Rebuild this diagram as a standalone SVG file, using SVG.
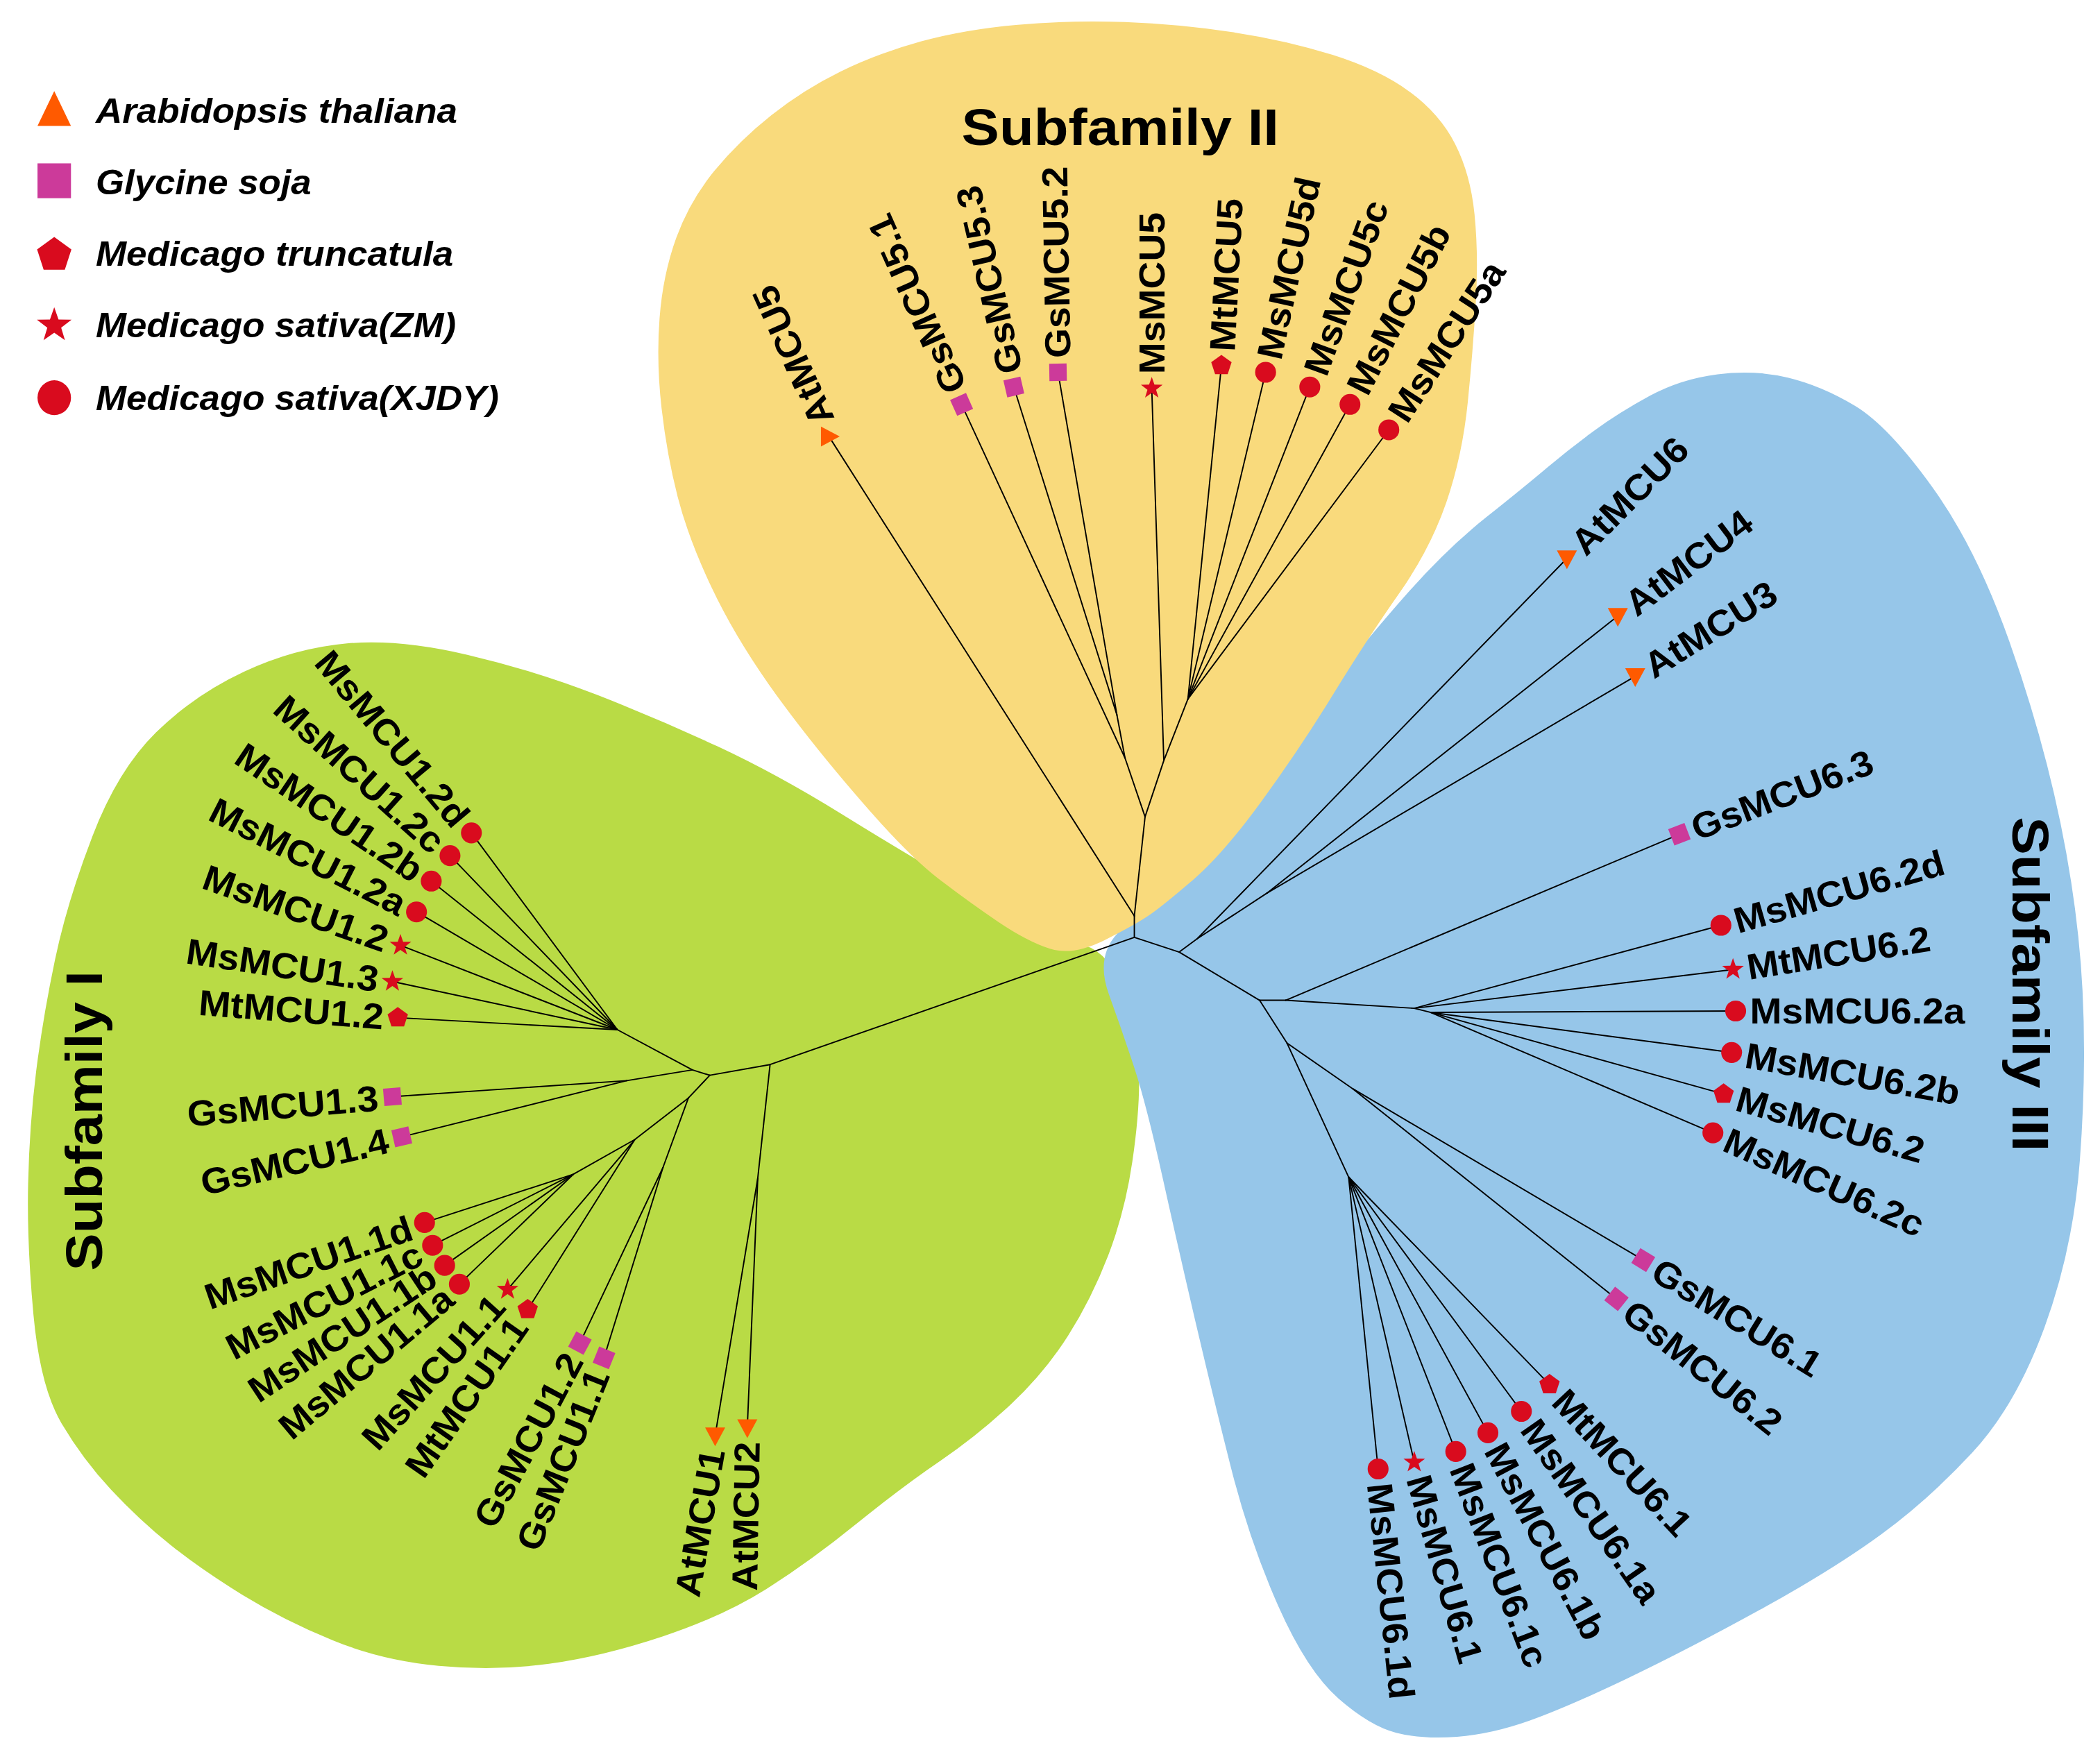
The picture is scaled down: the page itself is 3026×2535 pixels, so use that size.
<svg xmlns="http://www.w3.org/2000/svg" width="3026" height="2535" viewBox="0 0 3026 2535">
<style>
.lb{font-family:"Liberation Sans",Arial,sans-serif;font-weight:bold;font-size:27px;fill:#000}
.e{text-anchor:end}
.ttl{font-family:"Liberation Sans",Arial,sans-serif;font-weight:bold;font-size:38px;fill:#000}
.lg{font-family:"Liberation Sans",Arial,sans-serif;font-weight:bold;font-style:italic;font-size:26px;fill:#000}
.br line{stroke:#000;stroke-width:1;stroke-linecap:round}
</style>
<defs>
<circle id="mc" r="7.8" fill="#D90B1E"/>
<rect id="ms" x="-6.5" y="-6.5" width="13" height="13" fill="#CC3A9A"/>
<polygon id="mp" points="0,-8 7.61,-2.47 4.70,6.47 -4.70,6.47 -7.61,-2.47" fill="#D90B1E"/>
<polygon id="mst" points="0,-8.5 2,-2.75 8.08,-2.63 3.23,1.05 5,6.88 0,3.4 -5,6.88 -3.23,1.05 -8.08,-2.63 -2,-2.75" fill="#D90B1E"/>
<polygon id="mt" points="-7.5,-6 7.5,-6 0,8" fill="#FF5A00"/>
</defs>
<rect width="3026" height="2535" fill="#fff"/>
<g transform="scale(1.9298)">
<g id="backgrounds">
<path id="bg-subfamily-I" fill="#B9DB45" d="M349,489 Q400,501 446,519 Q492,537 536,557.5 Q580,578 628.5,608 Q677,638 703.5,653 Q730,668 760,684 Q790,700 810,706 Q830,712 840,744.5 Q850,777 850.5,803.5 Q851,830 845.5,867.5 Q840,905 827.5,937.5 Q815,970 797.5,997.5 Q780,1025 755,1048.5 Q730,1072 702,1091 Q674,1110 639.5,1138 Q605,1166 572.5,1186.5 Q540,1207 495,1222 Q450,1237 410,1242.5 Q370,1248 327.5,1244 Q285,1240 248.5,1225 Q212,1210 181,1191 Q150,1172 127,1153.5 Q104,1135 83,1112.5 Q62,1090 46,1063 Q30,1036 25,982 Q20,928 21,884 Q22,840 27,800 Q32,760 41,717 Q50,674 69,624.5 Q88,575 116.5,547 Q145,519 182.5,501.5 Q220,484 259,480.5 Q298,477 349,489 Z"/>
<path id="bg-subfamily-III" fill="#96C6E9" d="M1232,295.5 Q1255,283 1282.5,279.5 Q1310,276 1335,282 Q1360,288 1385,303 Q1410,318 1443,364 Q1476,410 1500.5,479.5 Q1525,549 1538.5,614.5 Q1552,680 1555,740 Q1558,800 1553,866.5 Q1548,933 1526.5,991.5 Q1505,1050 1472.5,1085 Q1440,1120 1404.5,1146 Q1369,1172 1314.5,1202 Q1260,1232 1215,1253.5 Q1170,1275 1142,1285 Q1114,1295 1088,1297 Q1062,1299 1042.5,1294 Q1023,1289 999.5,1268.5 Q976,1248 954.5,1199.5 Q933,1151 919,1095.5 Q905,1040 892.5,986.5 Q880,933 868,879 Q856,825 847,797.5 Q838,770 828,742.5 Q818,715 834,697.5 Q850,680 885,645 Q920,610 950,570 Q980,530 1000.5,503.5 Q1021,477 1050.5,443.5 Q1080,410 1109.5,386.5 Q1139,363 1155.5,349 Q1172,335 1190.5,321.5 Q1209,308 1232,295.5 Z"/>
<path id="bg-subfamily-II" fill="#F9DA7C" d="M784,708.5 Q767,703 745.5,688.5 Q724,674 700.5,656 Q677,638 638.5,593 Q600,548 574,511 Q548,474 531,438 Q514,402 506,371 Q498,340 494,305 Q490,270 492.5,237.5 Q495,205 505,177.5 Q515,150 533.5,127.5 Q552,105 576,86 Q600,67 627.5,53.5 Q655,40 687.5,31 Q720,22 760,18.5 Q800,15 840,16.5 Q880,18 920,24 Q960,30 995,41 Q1030,52 1052.5,68.5 Q1075,85 1086.5,107.5 Q1098,130 1101,160 Q1104,190 1102,225 Q1100,260 1096,300 Q1092,340 1080,375 Q1068,410 1044.5,443.5 Q1021,477 995.5,518.5 Q970,560 941.5,599 Q913,638 891.5,656.5 Q870,675 859.5,682.5 Q849,690 825,702 Q801,714 784,708.5 Z"/>
</g>
<g id="connectors" class="br">
<line x1="847" y1="700" x2="847" y2="684"/>
<line x1="847" y1="684" x2="619" y2="326"/>
<line x1="847" y1="684" x2="855" y2="610"/>
<line x1="855" y1="610" x2="840" y2="566"/>
<line x1="840" y1="566" x2="718" y2="302"/>
<line x1="840" y1="566" x2="834" y2="534"/>
<line x1="834" y1="534" x2="757" y2="289"/>
<line x1="834" y1="534" x2="790" y2="278"/>
<line x1="855" y1="610" x2="869" y2="568"/>
<line x1="869" y1="568" x2="860" y2="290"/>
<line x1="869" y1="568" x2="887" y2="522"/>
<line x1="887" y1="522" x2="912" y2="273"/>
<line x1="887" y1="522" x2="945" y2="278"/>
<line x1="887" y1="522" x2="978" y2="289"/>
<line x1="887" y1="522" x2="1008" y2="302"/>
<line x1="887" y1="522" x2="1037" y2="321"/>
<line x1="847" y1="700" x2="880.5" y2="711"/>
<line x1="880.5" y1="711" x2="894" y2="701"/>
<line x1="894" y1="701" x2="1170" y2="417"/>
<line x1="894" y1="701" x2="946" y2="667"/>
<line x1="946" y1="667" x2="1208" y2="460"/>
<line x1="946" y1="667" x2="1221" y2="505"/>
<line x1="880.5" y1="711" x2="940.5" y2="747"/>
<line x1="940.5" y1="747" x2="960" y2="747"/>
<line x1="960" y1="747" x2="1254" y2="623"/>
<line x1="960" y1="747" x2="1056" y2="753"/>
<line x1="1056" y1="753" x2="1285" y2="691"/>
<line x1="1056" y1="753" x2="1294" y2="724"/>
<line x1="1056" y1="753" x2="1068" y2="756"/>
<line x1="1068" y1="756" x2="1296" y2="755"/>
<line x1="1068" y1="756" x2="1293" y2="786"/>
<line x1="1068" y1="756" x2="1287" y2="817"/>
<line x1="1068" y1="756" x2="1279" y2="846"/>
<line x1="940.5" y1="747" x2="961" y2="779"/>
<line x1="961" y1="779" x2="1010" y2="813"/>
<line x1="1010" y1="813" x2="1227" y2="941"/>
<line x1="1010" y1="813" x2="1207" y2="970"/>
<line x1="961" y1="779" x2="1007" y2="879"/>
<line x1="1007" y1="879" x2="1157" y2="1034"/>
<line x1="1007" y1="879" x2="1136" y2="1054"/>
<line x1="1007" y1="879" x2="1111" y2="1070"/>
<line x1="1007" y1="879" x2="1087" y2="1084"/>
<line x1="1007" y1="879" x2="1056" y2="1092"/>
<line x1="1007" y1="879" x2="1029" y2="1097"/>
<line x1="847" y1="700" x2="575" y2="795"/>
<line x1="575" y1="795" x2="565.8" y2="880"/>
<line x1="565.8" y1="880" x2="534" y2="1072"/>
<line x1="565.8" y1="880" x2="558" y2="1066"/>
<line x1="575" y1="795" x2="530" y2="803"/>
<line x1="530" y1="803" x2="517" y2="799"/>
<line x1="517" y1="799" x2="461" y2="769"/>
<line x1="461" y1="769" x2="352" y2="622"/>
<line x1="461" y1="769" x2="336" y2="639"/>
<line x1="461" y1="769" x2="322" y2="658"/>
<line x1="461" y1="769" x2="311" y2="681"/>
<line x1="461" y1="769" x2="299" y2="706"/>
<line x1="461" y1="769" x2="293" y2="733"/>
<line x1="461" y1="769" x2="297" y2="760"/>
<line x1="517" y1="799" x2="468" y2="807"/>
<line x1="468" y1="807" x2="293" y2="819"/>
<line x1="468" y1="807" x2="300" y2="849"/>
<line x1="530" y1="803" x2="514" y2="820"/>
<line x1="514" y1="820" x2="495" y2="872"/>
<line x1="495" y1="872" x2="433" y2="1003"/>
<line x1="495" y1="872" x2="451" y2="1014"/>
<line x1="514" y1="820" x2="474" y2="851"/>
<line x1="474" y1="851" x2="428" y2="877"/>
<line x1="428" y1="877" x2="317" y2="913"/>
<line x1="428" y1="877" x2="323" y2="930"/>
<line x1="428" y1="877" x2="332" y2="945"/>
<line x1="428" y1="877" x2="343" y2="959"/>
<line x1="474" y1="851" x2="379" y2="963"/>
<line x1="474" y1="851" x2="394" y2="978"/>
</g>
<g id="titles">
<text class="ttl" x="718" y="108.4" textLength="237" lengthAdjust="spacingAndGlyphs">Subfamily II</text>
<text class="ttl" transform="translate(76,949) rotate(-90)" textLength="224" lengthAdjust="spacingAndGlyphs">Subfamily I</text>
<text class="ttl" transform="translate(1503,610) rotate(90)" textLength="250" lengthAdjust="spacingAndGlyphs">Subfamily III</text>
</g>
<g id="legend">
<g id="legend-arabidopsis"><polygon points="28,94 53,94 40.5,68" fill="#FF5A00"/><text class="lg" x="71.5" y="91.7" textLength="270" lengthAdjust="spacingAndGlyphs">Arabidopsis thaliana</text></g>
<g id="legend-glycine"><rect x="28" y="122" width="25" height="26" fill="#CC3A9A"/><text class="lg" x="71.5" y="145" textLength="161" lengthAdjust="spacingAndGlyphs">Glycine soja</text></g>
<g id="legend-truncatula"><polygon points="40.5,177 53.3,186.3 48.4,201.4 32.6,201.4 27.7,186.3" fill="#D90B1E"/><text class="lg" x="71.5" y="198.7" textLength="267" lengthAdjust="spacingAndGlyphs">Medicago truncatula</text></g>
<g id="legend-zm"><use href="#mst" transform="translate(40.5,243) scale(1.6)"/><text class="lg" x="71.5" y="252" textLength="269" lengthAdjust="spacingAndGlyphs">Medicago sativa(ZM)</text></g>
<g id="legend-xjdy"><ellipse cx="40.5" cy="297" rx="12.5" ry="13" fill="#D90B1E"/><text class="lg" x="71.5" y="306" textLength="301" lengthAdjust="spacingAndGlyphs">Medicago sativa(XJDY)</text></g>
</g>
<g id="leaves-subfamily-II">
<g id="AtMCU5"><use href="#mt" transform="translate(619,326) rotate(-90)"/><text class="lb" transform="translate(619,326) rotate(-114) scale(1.06,1)" x="10" dy="0.35em">AtMCU5</text></g>
<g id="GsMCU5.1"><use href="#ms" transform="translate(718,302) rotate(-114)"/><text class="lb" transform="translate(718,302) rotate(-114) scale(1.06,1)" x="10" dy="0.35em">GsMCU5.1</text></g>
<g id="GsMCU5.3"><use href="#ms" transform="translate(757,289) rotate(-103)"/><text class="lb" transform="translate(757,289) rotate(-103) scale(1.06,1)" x="10" dy="0.35em">GsMCU5.3</text></g>
<g id="GsMCU5.2"><use href="#ms" transform="translate(790,278) rotate(-91)"/><text class="lb" transform="translate(790,278) rotate(-91) scale(1.06,1)" x="10" dy="0.35em">GsMCU5.2</text></g>
<g id="MsMCU5"><use href="#mst" transform="translate(860,290)"/><text class="lb" transform="translate(860,290) rotate(-90) scale(1.06,1)" x="10" dy="0.35em">MsMCU5</text></g>
<g id="MtMCU5"><use href="#mp" transform="translate(912,273)"/><text class="lb" transform="translate(912,273) rotate(-87) scale(1.06,1)" x="10" dy="0.35em">MtMCU5</text></g>
<g id="MsMCU5d"><use href="#mc" transform="translate(945,278)"/><text class="lb" transform="translate(945,278) rotate(-77.5) scale(1.06,1)" x="10" dy="0.35em">MsMCU5d</text></g>
<g id="MsMCU5c"><use href="#mc" transform="translate(978,289)"/><text class="lb" transform="translate(978,289) rotate(-70) scale(1.06,1)" x="10" dy="0.35em">MsMCU5c</text></g>
<g id="MsMCU5b"><use href="#mc" transform="translate(1008,302)"/><text class="lb" transform="translate(1008,302) rotate(-63) scale(1.06,1)" x="10" dy="0.35em">MsMCU5b</text></g>
<g id="MsMCU5a"><use href="#mc" transform="translate(1037,321)"/><text class="lb" transform="translate(1037,321) rotate(-57) scale(1.06,1)" x="10" dy="0.35em">MsMCU5a</text></g>
</g>
<g id="leaves-subfamily-III">
<g id="AtMCU6"><use href="#mt" transform="translate(1170,417)"/><text class="lb" transform="translate(1170,417) rotate(-45) scale(1.06,1)" x="10" dy="0.35em">AtMCU6</text></g>
<g id="AtMCU4"><use href="#mt" transform="translate(1208,460)"/><text class="lb" transform="translate(1208,460) rotate(-37) scale(1.06,1)" x="10" dy="0.35em">AtMCU4</text></g>
<g id="AtMCU3"><use href="#mt" transform="translate(1221,505)"/><text class="lb" transform="translate(1221,505) rotate(-32) scale(1.06,1)" x="10" dy="0.35em">AtMCU3</text></g>
<g id="GsMCU6.3"><use href="#ms" transform="translate(1254,623) rotate(-21)"/><text class="lb" transform="translate(1254,623) rotate(-21) scale(1.06,1)" x="10" dy="0.35em">GsMCU6.3</text></g>
<g id="MsMCU6.2d"><use href="#mc" transform="translate(1285,691)"/><text class="lb" transform="translate(1285,691) rotate(-16) scale(1.06,1)" x="10" dy="0.35em">MsMCU6.2d</text></g>
<g id="MtMCU6.2"><use href="#mst" transform="translate(1294,724)"/><text class="lb" transform="translate(1294,724) rotate(-9) scale(1.06,1)" x="10" dy="0.35em">MtMCU6.2</text></g>
<g id="MsMCU6.2a"><use href="#mc" transform="translate(1296,755)"/><text class="lb" transform="translate(1296,755) rotate(0) scale(1.06,1)" x="10" dy="0.35em">MsMCU6.2a</text></g>
<g id="MsMCU6.2b"><use href="#mc" transform="translate(1293,786)"/><text class="lb" transform="translate(1293,786) rotate(10) scale(1.06,1)" x="10" dy="0.35em">MsMCU6.2b</text></g>
<g id="MsMCU6.2"><use href="#mp" transform="translate(1287,817)"/><text class="lb" transform="translate(1287,817) rotate(16) scale(1.06,1)" x="10" dy="0.35em">MsMCU6.2</text></g>
<g id="MsMCU6.2c"><use href="#mc" transform="translate(1279,846)"/><text class="lb" transform="translate(1279,846) rotate(24) scale(1.06,1)" x="10" dy="0.35em">MsMCU6.2c</text></g>
<g id="GsMCU6.1"><use href="#ms" transform="translate(1227,941) rotate(31.5)"/><text class="lb" transform="translate(1227,941) rotate(31.5) scale(1.06,1)" x="10" dy="0.35em">GsMCU6.1</text></g>
<g id="GsMCU6.2"><use href="#ms" transform="translate(1207,970) rotate(38.5)"/><text class="lb" transform="translate(1207,970) rotate(38.5) scale(1.06,1)" x="10" dy="0.35em">GsMCU6.2</text></g>
<g id="MtMCU6.1"><use href="#mp" transform="translate(1157,1034)"/><text class="lb" transform="translate(1157,1034) rotate(47) scale(1.06,1)" x="10" dy="0.35em">MtMCU6.1</text></g>
<g id="MsMCU6.1a"><use href="#mc" transform="translate(1136,1054)"/><text class="lb" transform="translate(1136,1054) rotate(55) scale(1.06,1)" x="10" dy="0.35em">MsMCU6.1a</text></g>
<g id="MsMCU6.1b"><use href="#mc" transform="translate(1111,1070)"/><text class="lb" transform="translate(1111,1070) rotate(62) scale(1.06,1)" x="10" dy="0.35em">MsMCU6.1b</text></g>
<g id="MsMCU6.1c"><use href="#mc" transform="translate(1087,1084)"/><text class="lb" transform="translate(1087,1084) rotate(69) scale(1.06,1)" x="10" dy="0.35em">MsMCU6.1c</text></g>
<g id="MsMCU6.1"><use href="#mst" transform="translate(1056,1092)"/><text class="lb" transform="translate(1056,1092) rotate(74) scale(1.06,1)" x="10" dy="0.35em">MsMCU6.1</text></g>
<g id="MsMCU6.1d"><use href="#mc" transform="translate(1029,1097)"/><text class="lb" transform="translate(1029,1097) rotate(84) scale(1.06,1)" x="10" dy="0.35em">MsMCU6.1d</text></g>
</g>
<g id="leaves-subfamily-I">
<g id="MsMCU1.2d"><use href="#mc" transform="translate(352,622)"/><text class="lb e" transform="translate(352,622) rotate(50) scale(1.06,1)" x="-10" dy="0.35em">MsMCU1.2d</text></g>
<g id="MsMCU1.2c"><use href="#mc" transform="translate(336,639)"/><text class="lb e" transform="translate(336,639) rotate(42) scale(1.06,1)" x="-10" dy="0.35em">MsMCU1.2c</text></g>
<g id="MsMCU1.2b"><use href="#mc" transform="translate(322,658)"/><text class="lb e" transform="translate(322,658) rotate(34) scale(1.06,1)" x="-10" dy="0.35em">MsMCU1.2b</text></g>
<g id="MsMCU1.2a"><use href="#mc" transform="translate(311,681)"/><text class="lb e" transform="translate(311,681) rotate(27) scale(1.06,1)" x="-10" dy="0.35em">MsMCU1.2a</text></g>
<g id="MsMCU1.2"><use href="#mst" transform="translate(299,706)"/><text class="lb e" transform="translate(299,706) rotate(19.5) scale(1.06,1)" x="-10" dy="0.35em">MsMCU1.2</text></g>
<g id="MsMCU1.3"><use href="#mst" transform="translate(293,733)"/><text class="lb e" transform="translate(293,733) rotate(8.5) scale(1.06,1)" x="-10" dy="0.35em">MsMCU1.3</text></g>
<g id="MtMCU1.2"><use href="#mp" transform="translate(297,760)"/><text class="lb e" transform="translate(297,760) rotate(4.4) scale(1.06,1)" x="-10" dy="0.35em">MtMCU1.2</text></g>
<g id="GsMCU1.3"><use href="#ms" transform="translate(293,819) rotate(-4.8)"/><text class="lb e" transform="translate(293,819) rotate(-4.8) scale(1.06,1)" x="-10" dy="0.35em">GsMCU1.3</text></g>
<g id="GsMCU1.4"><use href="#ms" transform="translate(300,849) rotate(-13)"/><text class="lb e" transform="translate(300,849) rotate(-13) scale(1.06,1)" x="-10" dy="0.35em">GsMCU1.4</text></g>
<g id="MsMCU1.1d"><use href="#mc" transform="translate(317,913)"/><text class="lb e" transform="translate(317,913) rotate(-19) scale(1.06,1)" x="-10" dy="0.35em">MsMCU1.1d</text></g>
<g id="MsMCU1.1c"><use href="#mc" transform="translate(323,930)"/><text class="lb e" transform="translate(323,930) rotate(-27) scale(1.06,1)" x="-10" dy="0.35em">MsMCU1.1c</text></g>
<g id="MsMCU1.1b"><use href="#mc" transform="translate(332,945)"/><text class="lb e" transform="translate(332,945) rotate(-33.5) scale(1.06,1)" x="-10" dy="0.35em">MsMCU1.1b</text></g>
<g id="MsMCU1.1a"><use href="#mc" transform="translate(343,959)"/><text class="lb e" transform="translate(343,959) rotate(-40) scale(1.06,1)" x="-10" dy="0.35em">MsMCU1.1a</text></g>
<g id="MsMCU1.1"><use href="#mst" transform="translate(379,963)"/><text class="lb e" transform="translate(379,963) rotate(-48) scale(1.06,1)" x="-10" dy="0.35em">MsMCU1.1</text></g>
<g id="MtMCU1.1"><use href="#mp" transform="translate(394,978)"/><text class="lb e" transform="translate(394,978) rotate(-55) scale(1.06,1)" x="-10" dy="0.35em">MtMCU1.1</text></g>
<g id="GsMCU1.2"><use href="#ms" transform="translate(433,1003) rotate(-62)"/><text class="lb e" transform="translate(433,1003) rotate(-62) scale(1.06,1)" x="-10" dy="0.35em">GsMCU1.2</text></g>
<g id="GsMCU1.1"><use href="#ms" transform="translate(451,1014) rotate(-68)"/><text class="lb e" transform="translate(451,1014) rotate(-68) scale(1.06,1)" x="-10" dy="0.35em">GsMCU1.1</text></g>
<g id="AtMCU1"><use href="#mt" transform="translate(534,1072)"/><text class="lb e" transform="translate(534,1072) rotate(-80) scale(1.06,1)" x="-10" dy="0.35em">AtMCU1</text></g>
<g id="AtMCU2"><use href="#mt" transform="translate(558,1066)"/><text class="lb e" transform="translate(558,1066) rotate(-89) scale(1.06,1)" x="-10" dy="0.35em">AtMCU2</text></g>
</g>
</g>
</svg>
